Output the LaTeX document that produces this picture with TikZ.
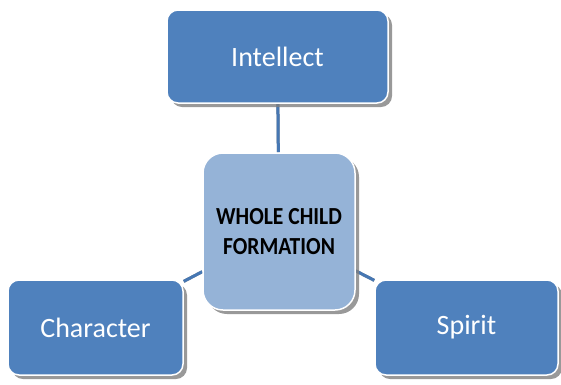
\documentclass[tikz,border=0pt]{standalone}
\usepackage{fontspec}
\setmainfont{Carlito}
\newfontfamily\condfont[FakeStretch=0.88]{Carlito}
\usetikzlibrary{shadows,backgrounds}
\definecolor{boxblue}{HTML}{4F81BD}
\definecolor{lightblue}{HTML}{95B3D7}
\definecolor{linkblue}{HTML}{4677B3}
\tikzset{
  outerbox/.style={draw=white, line width=1.5pt, fill=boxblue, rounded corners=11pt,
    text=white, font=\fontsize{28}{32}\selectfont,
    drop shadow={shadow xshift=4pt, shadow yshift=-4pt, fill=black!50, opacity=0.8}},
  centerbox/.style={draw=white, line width=1.5pt, fill=lightblue, rounded corners=20pt,
    text=black, font=\condfont\fontsize{24.5}{30}\selectfont\bfseries, align=center,
    minimum width=152pt, minimum height=157pt, inner sep=0pt,
    drop shadow={shadow xshift=4pt, shadow yshift=-4pt, fill=black!50, opacity=0.8}},
  link/.style={draw=linkblue, line width=3pt},
  linkshadow/.style={draw=black!45, line width=3pt, shift={(2.5pt,-2pt)}}
}
\begin{document}
\begin{tikzpicture}[x=1pt,y=-1pt]
\useasboundingbox (0,0) rectangle (561,384);
\node[outerbox, minimum width=221pt, minimum height=93pt, inner sep=0pt] (intellect) at (277.5,56.5) {Intellect};
\node[centerbox] (center) at (279,231.5) {WHOLE CHILD\\FORMATION};
\node[outerbox, minimum width=175pt, minimum height=95pt, inner sep=0pt] (character) at (95.5,327.5) {Character};
\node[outerbox, minimum width=183pt, minimum height=95pt, inner sep=0pt] (spirit) at (466.5,327.5) {Spirit};
\begin{pgfonlayer}{background}
\draw[linkshadow] (intellect) -- (center);
\draw[linkshadow] (center) -- (character);
\draw[linkshadow] (center) -- (spirit);
\draw[link] (intellect) -- (center);
\draw[link] (center) -- (character);
\draw[link] (center) -- (spirit);
\end{pgfonlayer}
\end{tikzpicture}
\end{document}
